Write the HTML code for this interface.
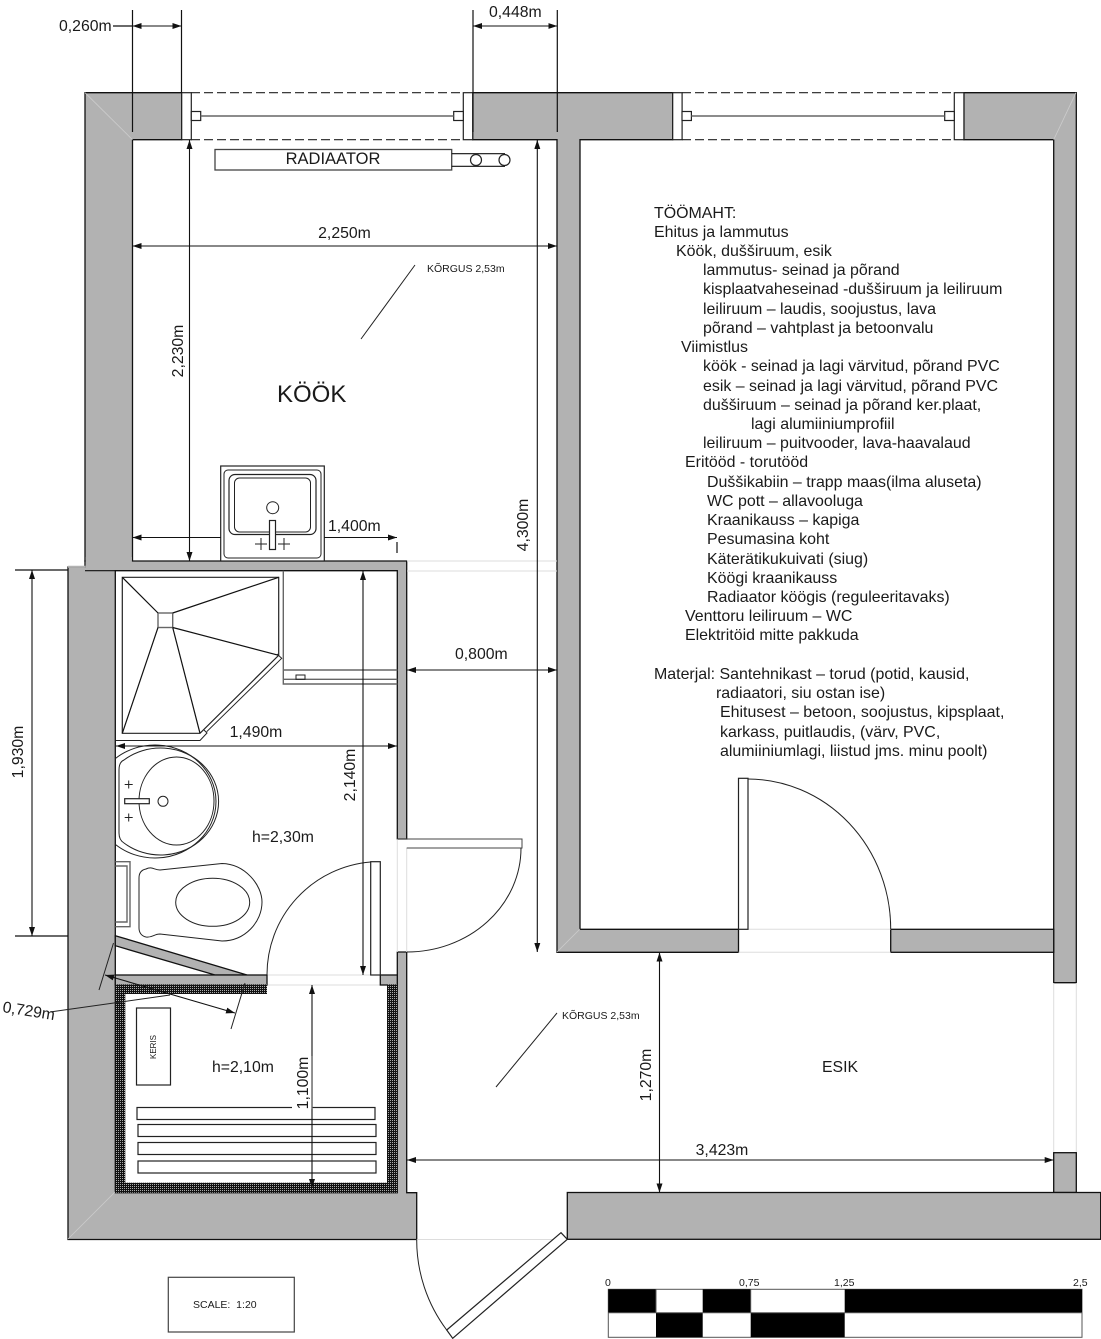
<!DOCTYPE html>
<html><head><meta charset="utf-8"><style>
html,body{margin:0;padding:0;background:#fff}
svg{display:block}
text{font-family:"Liberation Sans",sans-serif;font-size:15.8px;fill:#1a1a1a}
.b text{font-size:15.95px}
.w{fill:#b2b2b2;stroke:#111;stroke-width:1.3}
.l{fill:none;stroke:#111;stroke-width:1.2}
.t{fill:none;stroke:#222;stroke-width:1}
.g{fill:none;stroke:#666;stroke-width:1.4}
.f{fill:#fff;stroke:#222;stroke-width:1.2}
.d{fill:none;stroke:#111;stroke-width:1.1;marker-start:url(#a);marker-end:url(#a)}
.o{stroke:#ddd;stroke-width:1;fill:none}
.s{font-size:10.5px}
</style></head><body>
<svg width="1101" height="1339" viewBox="0 0 1101 1339" xmlns="http://www.w3.org/2000/svg">
<defs>
<marker id="a" markerUnits="userSpaceOnUse" markerWidth="10" markerHeight="6" refX="9" refY="3" orient="auto-start-reverse"><path d="M0 0L9 3L0 6Z" fill="#111"/></marker>
<pattern id="h" width="2" height="2" patternUnits="userSpaceOnUse"><rect width="2" height="2" fill="#111"/><rect width="1" height="1" fill="#aaa"/></pattern>
</defs>

<!-- walls -->
<path class="w" d="M85 92.7H181.7V139.7H132.5V561H85Z"/>
<path class="w" d="M68 567H85V561H406.7V839H397.3V570.7H115.3V1192.7H397.3V952H406.7V1192.7H416.7V1239.5H68Z"/>
<rect x="85.7" y="557" width="46.2" height="9" fill="#b2b2b2"/>
<path d="M68 566.7H85.5" stroke="#b2b2b2" stroke-width="2"/>
<path d="M85 570.7H115.3" stroke="#111" stroke-width="1.2"/>
<path class="w" d="M472.7 92.7H672.7V139.7H580V929.3H738.5V952.3H557V139.7H472.7Z"/>
<path class="w" d="M964 92.7H1076.3V982.7H1053.7V139.7H964Z"/>
<rect class="w" x="890.7" y="929.3" width="163" height="23"/>
<rect class="w" x="1053.7" y="1152.7" width="22.6" height="39.8"/>
<rect class="w" x="567.3" y="1192.5" width="533.4" height="46.8"/>
<path d="M85 92.7L132.5 139.7M1076 92.7L1053.7 139.7M68 1239L115 1192M557 952L580 929" stroke="#ccc" stroke-width="0.8" fill="none"/>

<!-- openings -->
<path class="o" d="M407 561H557M407 571H557M416.7 1239.5H567M748 929.3H890.7M738.5 952.3H890.7M1053.7 983V1152M1076.3 983V1152M267 975H380M267 985H387M397.3 839V952M406.7 848V952"/>

<!-- windows -->
<path d="M191 92.7H463M191 139.7H463M682 92.7H954M682 139.7H954" stroke="#222" stroke-width="1.2" stroke-dasharray="9 4" fill="none"/>
<rect class="f" x="181.7" y="92.7" width="9.6" height="47"/>
<rect class="f" x="463.3" y="92.7" width="9.4" height="47"/>
<rect class="f" x="672.7" y="92.7" width="9.4" height="47"/>
<rect class="f" x="954.3" y="92.7" width="9.6" height="47"/>
<rect class="f" x="191.3" y="111.5" width="9.4" height="9"/>
<rect class="f" x="453.7" y="111.5" width="9.6" height="9"/>
<rect class="f" x="682" y="111.5" width="9.4" height="9"/>
<rect class="f" x="944.7" y="111.5" width="9.6" height="9"/>
<path class="g" d="M200.7 116H453.7M691.4 116H944.7"/>

<!-- radiator -->
<rect x="215" y="149.5" width="236.7" height="20.5" fill="#fff" stroke="#444" stroke-width="1.3"/>
<path class="l" d="M451.7 153.7H505M451.7 166.3H505"/>
<circle class="f" cx="476" cy="160" r="5.5"/>
<circle class="f" cx="504.5" cy="160" r="5.5"/>
<text x="333" y="164" text-anchor="middle" style="font-size:16.5px">RADIAATOR</text>

<!-- kitchen sink -->
<rect class="f" x="220.7" y="466" width="103.6" height="95"/>
<rect class="t" x="224" y="470" width="97" height="88" rx="4"/>
<rect class="f" x="229" y="474.5" width="87" height="60" rx="6"/>
<rect class="t" x="234.5" y="478" width="76" height="54" rx="5"/>
<circle class="t" cx="272.7" cy="507.7" r="6"/>
<rect class="f" x="269.5" y="520.5" width="6" height="29"/>
<path class="t" d="M255 544H267M261 538V550M278 544H290M284 538V550"/>

<!-- shower -->
<path class="f" d="M122.3 577.3H278.7V655.3L200 733.3H122.3Z"/>
<rect class="g" x="158" y="613" width="14.7" height="14.5"/>
<path class="l" d="M122.3 577.3L158 613M172.7 613L278.7 577.3M172.7 627.5L278.7 655.3M158 627.5L122.3 733.3M172.7 627.5L200 733.3"/>
<path class="t" d="M115.3 740.5H200L207 733L204 730M206.7 731.7L281.7 658.3L277 654"/>

<!-- cabinet -->
<path class="g" d="M283.3 570.7V684H397.3M283.3 670H397.3M283.3 679.3H397.3"/>
<rect class="t" x="296" y="675" width="9" height="4.3"/>

<!-- wash basin -->
<path class="t" d="M115.3 758.6A61 56.5 0 1 1 115.3 844.4"/>
<path class="t" d="M119 833V770Q119 762 124 760A58 53.5 0 1 1 124 843Q119 840 119 833Z"/>
<ellipse class="t" cx="176.5" cy="801" rx="37.5" ry="44"/>
<rect class="f" x="124.7" y="798.7" width="24.6" height="5"/>
<circle class="t" cx="163" cy="801.3" r="5"/>
<path class="t" d="M124.7 784.5H132.7M128.7 780.5V788.5M124.7 817.5H132.7M128.7 813.5V821.5"/>

<!-- towel heater -->
<path class="g" d="M115.3 861.7H130V926.7H115.3M115.3 866H127V922H115.3"/>

<!-- toilet -->
<path class="t" d="M146 869C152 866 154 870 160 870L222 863.5C245 864 262 885 262 902C262 922 245 941 222 941L160 934C154 934 152 938 146 937C141 936 139 932 139 928V878C139 873 141 870 146 869Z"/>
<ellipse class="t" cx="212.7" cy="902.3" rx="37" ry="24"/>

<!-- diagonal wall and bath bottom wall -->
<path class="w" stroke-width="1" d="M115.3 935.7L247 975H215L115.3 945.7Z"/>
<rect class="w" x="115.3" y="975" width="151.7" height="10"/>
<rect class="w" x="380.3" y="975" width="17" height="10"/>

<!-- sauna insulation -->
<rect x="115.3" y="984.5" width="151.7" height="9.5" fill="url(#h)"/>
<rect x="115.3" y="984.5" width="10" height="208" fill="url(#h)"/>
<rect x="387" y="984.5" width="10.5" height="208" fill="url(#h)"/>
<rect x="115.3" y="1182.7" width="282.2" height="10" fill="url(#h)"/>

<!-- doors -->
<path class="t" d="M370.7 862A113 113 0 0 0 267 975"/>
<rect class="f" x="370.7" y="861.7" width="9.6" height="113.3"/>
<path d="M397.3 839H522V848H406.7" fill="none" stroke="#444" stroke-width="1"/>
<path class="t" d="M521 848A114 104 0 0 1 407 952"/>
<rect class="f" x="738.5" y="778.3" width="9.5" height="151"/>
<path class="t" d="M748 779A143 150 0 0 1 890.7 929.3"/>
<path class="f" d="M561 1232.7L567.3 1239.3L452.7 1338.3L446.7 1330Z"/>
<path class="t" d="M416.7 1239.5A150 150 0 0 0 446.7 1330"/>

<!-- sauna furniture -->
<rect class="f" x="136.5" y="1008" width="34" height="77"/>
<text class="s" style="font-size:8px" transform="translate(156 1047) rotate(-90)" text-anchor="middle">KERIS</text>
<rect class="f" x="137" y="1107.5" width="238" height="12"/>
<rect class="f" x="138" y="1124.5" width="238" height="12"/>
<rect class="f" x="138" y="1142.5" width="238" height="12"/>
<rect class="f" x="138" y="1161" width="238" height="12"/>

<!-- extension lines -->
<path class="l" d="M132.5 10V132M181.5 10V92.7M473 10V132M557.3 10V132M113 26H132.5M15 570H68M15 936H68"/>
<path class="l" d="M397 542V553"/>
<path class="t" d="M113.5 943L99 990M245 983L231 1029M415 265L361 339M557 1013L496 1087M50 1012L170 995"/>

<!-- dimensions -->
<path class="d" d="M132.5 26H181.5"/>
<path class="d" d="M473 26H557.3"/>
<path class="d" d="M189.5 140V561"/>
<path class="d" d="M537.3 140V952"/>
<path class="d" d="M132.5 246H557"/>
<path class="d" d="M132.5 537.5H220.7" style="marker-end:none"/>
<path class="d" d="M324.3 537.5H397" style="marker-start:none"/>
<path class="d" d="M407 670H557"/>
<path class="d" d="M116 746H397"/>
<path class="d" d="M363 571V975"/>
<path class="d" d="M32 570V936"/>
<path class="d" d="M312 985V1188"/>
<path class="d" d="M407 1160H1053.7"/>
<path class="d" d="M659.5 952.5V1192.5"/>
<path class="d" d="M105 975L235 1013"/>

<!-- dimension labels -->
<text x="59" y="31">0,260m</text>
<text x="489" y="17">0,448m</text>
<text x="344.5" y="238" text-anchor="middle">2,250m</text>
<text x="328" y="531">1,400m</text>
<text x="455" y="659">0,800m</text>
<text x="256" y="737" text-anchor="middle">1,490m</text>
<text x="722" y="1155" text-anchor="middle">3,423m</text>
<text transform="translate(183 351) rotate(-90)" text-anchor="middle">2,230m</text>
<text transform="translate(528 525) rotate(-90)" text-anchor="middle">4,300m</text>
<text transform="translate(355 775) rotate(-90)" text-anchor="middle">2,140m</text>
<text transform="translate(23 752) rotate(-90)" text-anchor="middle">1,930m</text>
<text transform="translate(651 1075) rotate(-90)" text-anchor="middle">1,270m</text>
<rect x="292" y="1056" width="20" height="53" fill="#fff"/>
<path class="g" d="M312 1056V1109"/>
<text transform="translate(308 1083) rotate(-90)" text-anchor="middle">1,100m</text>
<text transform="translate(2 1012) rotate(9)">0,729m</text>

<!-- room labels -->
<text x="277" y="402" style="font-size:24px">KÖÖK</text>
<text x="252" y="842">h=2,30m</text>
<text x="212" y="1072">h=2,10m</text>
<text x="840" y="1072" text-anchor="middle">ESIK</text>
<text x="427" y="272" class="s">KÕRGUS 2,53m</text>
<text x="562" y="1019" class="s">KÕRGUS 2,53m</text>

<!-- work description -->
<g class="b">
<text x="654" y="218">TÖÖMAHT:</text>
<text x="654" y="237">Ehitus ja lammutus</text>
<text x="676" y="256">Köök, dušširuum, esik</text>
<text x="703" y="275">lammutus- seinad ja põrand</text>
<text x="703" y="294">kisplaatvaheseinad -dušširuum ja leiliruum</text>
<text x="703" y="314">leiliruum – laudis, soojustus, lava</text>
<text x="703" y="333">põrand – vahtplast ja betoonvalu</text>
<text x="681" y="352">Viimistlus</text>
<text x="703" y="371">köök - seinad ja lagi värvitud, põrand PVC</text>
<text x="703" y="391">esik – seinad ja lagi värvitud, põrand PVC</text>
<text x="703" y="410">dušširuum – seinad ja põrand ker.plaat,</text>
<text x="751" y="429">lagi alumiiniumprofiil</text>
<text x="703" y="448">leiliruum – puitvooder, lava-haavalaud</text>
<text x="685" y="467">Eritööd - torutööd</text>
<text x="707" y="487">Duššikabiin – trapp maas(ilma aluseta)</text>
<text x="707" y="506">WC pott – allavooluga</text>
<text x="707" y="525">Kraanikauss – kapiga</text>
<text x="707" y="544">Pesumasina koht</text>
<text x="707" y="564">Käterätikukuivati (siug)</text>
<text x="707" y="583">Köögi kraanikauss</text>
<text x="707" y="602">Radiaator köögis (reguleeritavaks)</text>
<text x="685" y="621">Venttoru leiliruum – WC</text>
<text x="685" y="640">Elektritöid mitte pakkuda</text>
<text x="654" y="679">Materjal: Santehnikast – torud (potid, kausid,</text>
<text x="716" y="698">radiaatori, siu ostan ise)</text>
<text x="720" y="717">Ehitusest – betoon, soojustus, kipsplaat,</text>
<text x="720" y="737">karkass, puitlaudis, (värv, PVC,</text>
<text x="720" y="756">alumiiniumlagi, liistud jms. minu poolt)</text>
</g>

<!-- scale box -->
<rect x="168.3" y="1277.3" width="126" height="54.7" fill="#fff" stroke="#444" stroke-width="1.2"/>
<text x="193" y="1308" class="s" xml:space="preserve">SCALE:  1:20</text>

<!-- scale bar -->
<rect x="608.3" y="1289.3" width="473.7" height="48" fill="#fff" stroke="#555" stroke-width="1"/>
<rect x="608.3" y="1289.3" width="47.7" height="23.4" fill="#000"/>
<rect x="702.7" y="1289.3" width="48" height="23.4" fill="#000"/>
<rect x="844.7" y="1289.3" width="237.3" height="23.4" fill="#000"/>
<rect x="656" y="1312.7" width="46.7" height="24.6" fill="#000"/>
<rect x="750.7" y="1312.7" width="94" height="24.6" fill="#000"/>
<path d="M656 1289.3V1312.7M750.7 1289.3V1312.7M608.3 1312.7H1082" stroke="#555" stroke-width="1"/>
<text x="605" y="1286" class="s">0</text>
<text x="739" y="1286" class="s">0,75</text>
<text x="834" y="1286" class="s">1,25</text>
<text x="1073" y="1286" class="s">2,5</text>
</svg>
</body></html>
